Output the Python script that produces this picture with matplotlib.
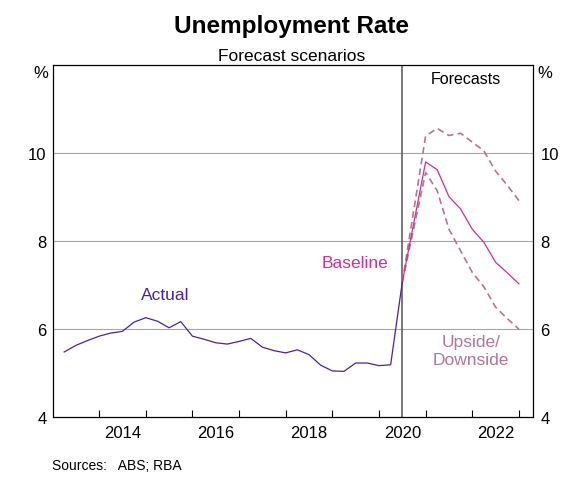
import numpy as np
import matplotlib.pyplot as plt

plt.rcParams['font.family'] = ['Liberation Sans', 'DejaVu Sans']

# quarterly actual, Mar 2013 .. Jun 2020 (plotted at end of quarter)
actual_x = np.arange(30) * 0.25 + 2013.25
actual = [5.47, 5.62, 5.73, 5.83, 5.90, 5.94, 6.15, 6.25, 6.17, 6.02,
          6.16, 5.83, 5.76, 5.68, 5.65, 5.71, 5.78, 5.58, 5.50, 5.45,
          5.52, 5.41, 5.17, 5.04, 5.03, 5.22, 5.22, 5.16, 5.18, 7.06]

# forecasts start from last actual point
fc_x = [2020.5, 2021.0, 2021.25, 2021.5, 2021.75, 2022.0, 2022.25, 2022.5, 2022.75, 2023.0]
baseline = [7.06, 9.79, 9.61, 9.00, 8.72, 8.26, 7.96, 7.51, 7.27, 7.02]
upside = [7.06, 9.55, 9.13, 8.26, 7.77, 7.28, 6.95, 6.49, 6.23, 5.99]
downside = [7.06, 10.38, 10.55, 10.39, 10.44, 10.24, 10.04, 9.58, 9.26, 8.91]

year_ticks = list(range(2014, 2024))
year_labels = ["2014", "2016", "2018", "2020", "2022"]
y_ticks = [4, 6, 8, 10]

c_actual = "#4b22a6"
c_base = "#d92e8a"
c_alt = "#b57597"

fig = plt.figure(figsize=(5.81, 4.81), dpi=100)
ax = fig.add_axes([0.092, 0.1316, 0.826, 0.732])

for v in [6, 8, 10]:
    ax.axhline(v, color="#a6a6a6", lw=0.8, zorder=1)
ax.axvline(2020.5, color="#555555", lw=1.1, zorder=2)

ax.plot(fc_x, upside, color=c_alt, lw=1.2, ls=(0, (4, 2.5)), zorder=3)
ax.plot(fc_x, downside, color=c_alt, lw=1.2, ls=(0, (4, 2.5)), zorder=3)
ax.plot(fc_x, baseline, color=c_base, lw=0.9, zorder=4)
ax.plot(actual_x, actual, color=c_actual, lw=0.9, zorder=5)

ax.set_xlim(2013.02, 2023.31)
ax.set_ylim(4, 12)

ax.set_xticks(year_ticks)
ax.set_xticklabels([])
ax.tick_params(axis="x", which="major", direction="in", length=5, width=0.8)
ax.set_xticks([int(s) + 0.5 for s in year_labels], minor=True)
ax.set_xticklabels(year_labels, minor=True)
ax.tick_params(axis="x", which="minor", length=0, labelsize=12, pad=6)

ax.set_yticks(y_ticks)
ax.tick_params(axis="y", length=0, labelsize=12, pad=5,
               left=True, right=True, labelleft=True, labelright=True)
for s in ax.spines.values():
    s.set_linewidth(0.9)

fig.text(0.502, 0.932, "Unemployment Rate", ha="center", va="baseline",
         fontsize=17.5, fontweight="bold")
fig.text(0.502, 0.874, "Forecast scenarios", ha="center", va="baseline", fontsize=12.5)
fig.text(0.071, 0.862, "%", ha="center", va="top", fontsize=12)
fig.text(0.9385, 0.862, "%", ha="center", va="top", fontsize=12)
fig.text(0.089, 0.023, "Sources:   ABS; RBA", ha="left", va="baseline", fontsize=10)

ax.text(2021.86, 11.68, "Forecasts", ha="center", va="center", fontsize=11.5)
ax.text(2015.41, 6.78, "Actual", ha="center", va="center", fontsize=12.5, color=c_actual)
ax.text(2019.48, 7.5, "Baseline", ha="center", va="center", fontsize=12.5, color=c_base)
ax.text(2021.97, 5.5, "Upside/\nDownside", ha="center", va="center", fontsize=12.5,
        color=c_alt, linespacing=1.25)

fig.savefig("out.png", dpi=100)
